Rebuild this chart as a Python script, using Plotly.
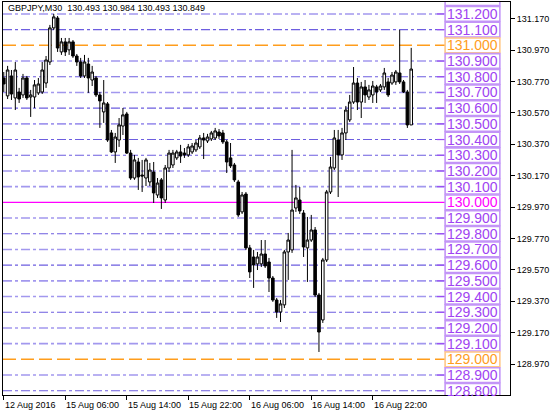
import plotly.graph_objects as go

symbol = "GBPJPY,M30"

opens = [130.792, 130.678, 130.805, 130.665, 130.703, 130.684, 130.792, 130.671, 130.671, 130.697,
         130.703, 130.760, 130.894, 131.111, 131.174, 130.958, 131.022, 130.971, 131.022, 130.932,
         130.894, 130.805, 130.881, 130.779, 130.792, 130.684, 130.576, 130.627, 130.442, 130.321,
         130.397, 130.486, 130.563, 130.314, 130.155, 130.257, 130.174, 130.155, 130.130, 130.193,
         130.047, 130.143, 130.015, 130.219, 130.238, 130.283, 130.321, 130.314, 130.302, 130.321,
         130.334, 130.353, 130.410, 130.391, 130.404, 130.410, 130.448, 130.442, 130.385, 130.283,
         130.238, 130.130, 129.939, 130.053, 129.710, 129.652, 129.608, 129.608, 129.671, 129.620,
         129.518, 129.378, 129.302, 129.347, 129.684, 129.697, 129.964, 130.015, 129.932, 129.710,
         129.760, 129.824, 129.410, 129.251, 129.633, 130.066, 130.219, 130.397, 130.302, 130.442,
         130.525, 130.639, 130.760, 130.639, 130.735, 130.671, 130.684, 130.735, 130.716, 130.735,
         130.767, 130.760, 130.767, 130.824, 130.767, 130.703, 130.493]

highs = [130.830, 130.869, 130.843, 130.894, 130.729, 130.818, 130.805, 130.716, 130.779, 130.792,
         130.894, 130.932, 131.130, 131.200, 131.187, 131.047, 131.047, 131.047, 131.034, 130.945,
         130.920, 130.939, 130.920, 130.869, 130.805, 130.703, 130.779, 130.639, 130.461, 130.442,
         130.537, 130.601, 130.576, 130.334, 130.302, 130.283, 130.270, 130.283, 130.251, 130.257,
         130.155, 130.155, 130.238, 130.334, 130.334, 130.334, 130.366, 130.346, 130.372, 130.378,
         130.397, 130.429, 130.442, 130.436, 130.455, 130.474, 130.467, 130.461, 130.397, 130.378,
         130.251, 130.143, 130.066, 130.066, 129.729, 129.697, 129.684, 129.760, 129.760, 129.646,
         129.531, 129.391, 129.378, 129.697, 129.805, 130.334, 130.111, 130.098, 129.951, 129.907,
         129.920, 129.843, 129.423, 129.646, 130.079, 130.289, 130.461, 130.461, 130.474, 130.614,
         130.684, 130.862, 130.792, 130.767, 130.779, 130.748, 130.773, 130.748, 130.754, 130.856,
         130.792, 130.830, 130.843, 131.098, 130.779, 130.716, 130.984]

lows = [130.703, 130.658, 130.652, 130.588, 130.633, 130.665, 130.652, 130.544, 130.601, 130.684,
        130.690, 130.729, 130.875, 131.098, 130.958, 130.939, 130.932, 130.939, 130.920, 130.869,
        130.792, 130.792, 130.697, 130.741, 130.671, 130.474, 130.506, 130.385, 130.314, 130.251,
        130.353, 130.429, 130.308, 130.143, 130.143, 130.079, 130.066, 130.104, 130.104, 129.996,
        130.028, 129.958, 129.996, 130.193, 130.219, 130.270, 130.251, 130.283, 130.289, 130.308,
        130.321, 130.340, 130.276, 130.378, 130.391, 130.397, 130.404, 130.372, 130.187, 130.219,
        130.130, 129.907, 129.926, 129.697, 129.518, 129.455, 129.569, 129.588, 129.582, 129.429,
        129.366, 129.264, 129.238, 129.327, 129.506, 129.678, 129.939, 129.926, 129.652, 129.493,
        129.748, 129.397, 129.047, 129.232, 129.620, 130.053, 130.206, 130.034, 130.270, 130.397,
        130.512, 130.627, 130.588, 130.537, 130.633, 130.652, 130.633, 130.633, 130.703, 130.716,
        130.671, 130.748, 130.748, 130.754, 130.697, 130.474, 130.493]

closes = [130.754, 130.843, 130.690, 130.843, 130.658, 130.792, 130.665, 130.684, 130.748, 130.754,
          130.843, 130.907, 131.111, 131.181, 130.983, 131.022, 130.958, 131.022, 130.932, 130.894,
          130.805, 130.894, 130.792, 130.830, 130.684, 130.646, 130.633, 130.397, 130.321, 130.416,
          130.493, 130.557, 130.314, 130.155, 130.270, 130.162, 130.168, 130.270, 130.206, 130.060,
          130.123, 130.028, 130.219, 130.314, 130.314, 130.321, 130.295, 130.302, 130.353, 130.359,
          130.378, 130.410, 130.397, 130.416, 130.442, 130.455, 130.423, 130.385, 130.257, 130.232,
          130.143, 129.920, 130.047, 129.710, 129.557, 129.601, 129.652, 129.671, 129.595, 129.518,
          129.378, 129.302, 129.353, 129.684, 129.760, 129.951, 130.028, 129.945, 129.716, 129.760,
          129.824, 129.410, 129.174, 129.633, 130.066, 130.225, 130.410, 130.302, 130.442, 130.588,
          130.639, 130.760, 130.639, 130.735, 130.684, 130.716, 130.741, 130.703, 130.741, 130.824,
          130.684, 130.811, 130.830, 130.767, 130.703, 130.493, 130.849]

time_tick_bars = [0, 16, 32, 48, 64, 80, 96]
time_tick_labels = ["12 Aug 2016", "15 Aug 06:00", "15 Aug 14:00", "15 Aug 22:00",
                    "16 Aug 06:00", "16 Aug 14:00", "16 Aug 22:00"]

price_ticks = [131.17, 130.97, 130.77, 130.57, 130.37, 130.17, 129.97,
               129.77, 129.57, 129.37, 129.17, 128.97]
price_tick_labels = ["131.170", "130.970", "130.770", "130.570", "130.370", "130.170", "129.970",
                     "129.770", "129.570", "129.370", "129.170", "128.970"]

level_prices = [131.3, 131.2, 131.1, 131.0, 130.9, 130.8, 130.7, 130.6, 130.5, 130.4, 130.3,
                130.2, 130.1, 130.0, 129.9, 129.8, 129.7, 129.6, 129.5, 129.4, 129.3, 129.2,
                129.1, 129.0, 128.9, 128.8]
level_labels = ["131.300", "131.200", "131.100", "131.000", "130.900", "130.800", "130.700",
                "130.600", "130.500", "130.400", "130.300", "130.200", "130.100", "130.000",
                "129.900", "129.800", "129.700", "129.600", "129.500", "129.400", "129.300",
                "129.200", "129.100", "129.000", "128.900", "128.800"]
round_levels = [131.0, 129.0]
pivot_level = 130.0
darker_levels = [131.1, 130.8, 130.6, 130.4, 130.3, 129.8, 129.6, 129.3, 128.8]

Y_RANGE = [128.773, 131.276]
X_RANGE = [-0.2, 131.7]

FONT = "Liberation Sans, Arial, sans-serif"
LINE_DARK = "#6d5ee0"
LINE_LIGHT = "#a298ee"
ORANGE = "#ff9d1c"
MAGENTA = "#ff00ff"
LBL_TEXT = "#a043f2"
LBL_BORDER = "#c395f7"

n = len(opens)
bars = list(range(n))

fig = go.Figure()
fig.add_trace(go.Candlestick(
    x=bars, open=opens, high=highs, low=lows, close=closes,
    increasing=dict(line=dict(color="#000000", width=1), fillcolor="#ffffff"),
    decreasing=dict(line=dict(color="#000000", width=1), fillcolor="#000000"),
    whiskerwidth=0, showlegend=False, hoverinfo="skip",
))

shapes = []
annotations = []
LX0, LX1 = 0.872, 0.980   # label box (paper)
STUB0 = 0.856
for p, lab in zip(level_prices, level_labels):
    if p in round_levels:
        lc, lw, dash, txt, bc = ORANGE, 1.5, "13px,5px", ORANGE, "#ffc887"
    elif p == pivot_level:
        lc, lw, dash, txt, bc = MAGENTA, 1.3, "solid", MAGENTA, LBL_BORDER
    elif p in darker_levels:
        lc, lw, dash, txt, bc = LINE_DARK, 1.1, "9px,3px,3px,3px", LBL_TEXT, LBL_BORDER
    else:
        lc, lw, dash, txt, bc = LINE_LIGHT, 1.6, "9px,3px,3px,3px", LBL_TEXT, LBL_BORDER
    shapes.append(dict(type="line", xref="paper", yref="y", x0=0, x1=LX0, y0=p, y1=p,
                       line=dict(color=lc, width=lw, dash=dash), layer="below"))
    if p not in round_levels and p != pivot_level:
        shapes.append(dict(type="line", xref="paper", yref="y", x0=STUB0, x1=LX0, y0=p, y1=p,
                           line=dict(color="#9b4cf5", width=1.2), layer="below"))
    shapes.append(dict(type="rect", xref="paper", yref="y", x0=LX0, x1=LX1,
                       y0=p - 0.047, y1=p + 0.047,
                       line=dict(color=bc, width=1.6), fillcolor="#ffffff", layer="above"))
    if Y_RANGE[0] < p < Y_RANGE[1]:
        annotations.append(dict(xref="paper", yref="y", x=(LX0 + LX1) / 2, y=p, text=lab,
                                showarrow=False, xanchor="center", yanchor="middle",
                                font=dict(family=FONT, size=14, color=txt)))

for b, lab in zip(time_tick_bars, time_tick_labels):
    annotations.append(dict(xref="x", yref="paper", x=b, y=-0.008, text=lab, showarrow=False,
                            xanchor="left", yanchor="top", xshift=-1,
                            font=dict(family=FONT, size=9, color="#000000")))

title = f"{symbol}\u00a0 {opens[-1]:.3f} {highs[-1]:.3f} {lows[-1]:.3f} {closes[-1]:.3f}"
annotations.append(dict(xref="paper", yref="paper", x=0.006, y=0.984, text=title,
                        showarrow=False, xanchor="left", yanchor="middle",
                        font=dict(family=FONT, size=9, color="#000000")))

fig.update_layout(
    width=560, height=414,
    margin=dict(l=3, r=50, t=2, b=19),
    paper_bgcolor="#ffffff", plot_bgcolor="#ffffff",
    shapes=shapes, annotations=annotations,
    showlegend=False,
    boxgap=0.05,
    xaxis=dict(range=X_RANGE, rangeslider=dict(visible=False), showgrid=False, zeroline=False,
               tickmode="array", tickvals=time_tick_bars, ticktext=[""] * len(time_tick_bars),
               ticks="outside", ticklen=4, tickcolor="#000000", showticklabels=False,
               showline=True, linecolor="#000000", linewidth=1, mirror=True),
    yaxis=dict(range=Y_RANGE, side="right", showgrid=False, zeroline=False,
               tickmode="array", tickvals=price_ticks, ticktext=price_tick_labels,
               ticks="outside", ticklen=4, tickcolor="#000000",
               tickfont=dict(family=FONT, size=9, color="#000000"),
               showline=True, linecolor="#000000", linewidth=1, mirror=True,
               automargin=False),
)

fig.write_html(
    "out.html",
    config={"displayModeBar": False, "staticPlot": True},
    post_script="document.body.style.margin='0px';document.body.style.padding='0px';"
                "document.documentElement.style.overflow='hidden';",
)
